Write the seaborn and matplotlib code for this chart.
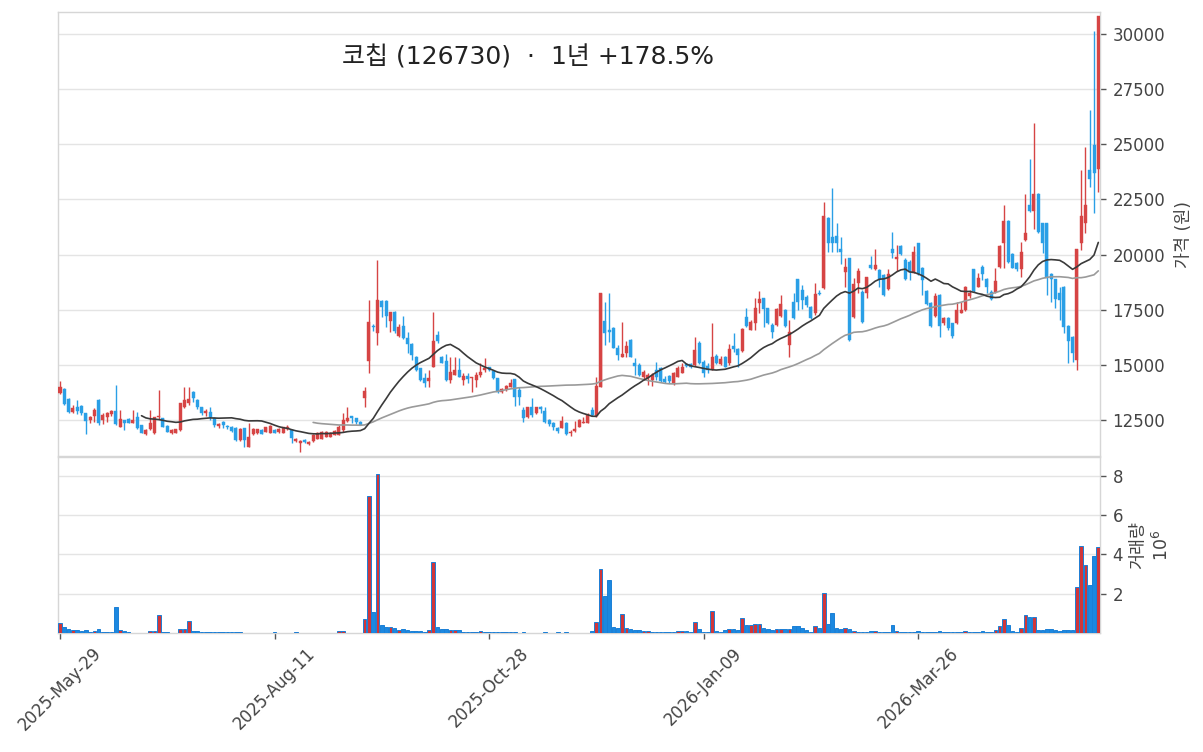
import numpy as np
import pandas as pd
import seaborn as sns
import matplotlib
matplotlib.use('Agg')
import matplotlib.pyplot as plt

# daily OHLC (KRW) and volume (millions of shares), 2025-05-29 .. 2026-05-29
opens = [
    13710, 13904, 13451, 12877, 13100, 13149, 12800, 12500, 12700, 13406,
    12500, 12620, 12771, 12922, 12197, 12500, 12545, 12378, 12650, 12257,
    11850, 12076, 11895, 12620, 12575, 12228, 11895, 11925, 12046, 13100,
    13250, 13780, 13400, 13070, 12800, 12880, 12570, 12230, 12420, 12230,
    12200, 12150, 11600, 12120, 11290, 11850, 11900, 12050, 11970, 11930,
    12050, 11950, 11920, 12100, 12050, 11550, 11450, 11600, 11400, 11530,
    11650, 11650, 11750, 11750, 11820, 11820, 12047, 12470, 12680, 12570,
    12420, 13480, 15175, 16760, 16460, 17900, 17900, 17000, 17400, 16310,
    16760, 16200, 15930, 15340, 14840, 14390, 14280, 14920, 16350, 15370,
    15175, 14310, 14540, 14770, 14310, 14490, 14400, 14310, 14540, 14770,
    14890, 14740, 14390, 13785, 13890, 14010, 14340, 13860, 12950, 12620,
    13100, 12800, 13100, 12900, 12500, 12350, 12150, 12150, 12380, 11900,
    12020, 12200, 12350, 12380, 12950, 12700, 14010, 16990, 16560, 16680,
    15780, 15370, 15550, 16130, 15100, 14990, 14460, 14390, 14310, 14770,
    14840, 14340, 14490, 14190, 14460, 14650, 15020, 15040, 14990, 16000,
    15140, 14950, 14800, 15400, 15040, 15340, 15070, 15870, 15720, 15640,
    17180, 16580, 16880, 17790, 18010, 17560, 16800, 16800, 17210, 17490,
    15900, 17860, 18890, 18395, 18090, 17640, 17340, 18270, 18470, 21640,
    20810, 20840, 20250, 19220, 19830, 17150, 18730, 18320, 18240, 19530,
    19330, 19300, 19070, 18420, 20240, 19790, 20390, 19750, 19680, 19180,
    20510, 19380, 18360, 17820, 17210, 18170, 16910, 17110, 16880, 16880,
    17370, 17490, 18120, 19330, 18540, 19420, 18880, 18320, 18320, 19420,
    20510, 21540, 20030, 19600, 19330, 20660, 22250, 21990, 22750, 21420,
    21420, 19120, 18880, 18240, 18540, 16760, 16280, 15220, 20510, 21420,
    23830, 24970, 23860,
]
highs = [
    14280, 13930, 13480, 13180, 13406, 13180, 12830, 12680, 13030, 13436,
    12800, 12877, 12953, 14086, 12953, 12520, 12570, 12953, 12877, 12280,
    12100, 12953, 12620, 13860, 12600, 12250, 12080, 12100, 13285, 13980,
    14010, 13800, 13450, 13100, 12980, 13100, 12650, 12350, 12450, 12280,
    12230, 12200, 12150, 12150, 12350, 12120, 12100, 12080, 12200, 12250,
    12100, 12150, 12200, 12280, 12100, 11700, 11600, 11620, 11550, 11850,
    11950, 12000, 11980, 11950, 12050, 12250, 12800, 13100, 12700, 12600,
    12450, 14010, 17940, 16850, 19750, 17950, 17950, 17400, 17420, 16850,
    17220, 16500, 15980, 15380, 14870, 14617, 14770, 17410, 16540, 15400,
    15490, 15370, 15340, 15290, 14620, 14620, 14460, 14690, 15070, 15300,
    14920, 14780, 14420, 13940, 14100, 14340, 14360, 14010, 13100, 13100,
    13480, 13100, 13120, 13100, 12550, 12400, 12200, 12680, 12400, 12050,
    12470, 12530, 12650, 12800, 13100, 14470, 18270, 17860, 18240, 16730,
    15900, 16930, 16100, 16160, 15330, 15070, 14770, 14610, 14650, 15140,
    14890, 14510, 14520, 14690, 14960, 15070, 15100, 15080, 16250, 16080,
    15220, 15070, 16880, 15490, 15400, 15400, 15950, 16460, 15750, 16650,
    17590, 17030, 18010, 18360, 18040, 17580, 16880, 17560, 18170, 17520,
    17030, 18260, 18900, 18620, 18170, 17660, 18700, 18390, 22400, 21720,
    23000, 21450, 20780, 19830, 19830, 18920, 19380, 18390, 19000, 19930,
    20250, 19330, 19120, 19330, 21040, 20430, 20420, 19830, 19750, 20390,
    20510, 19450, 18390, 17860, 18240, 18200, 17150, 17150, 16910, 17860,
    17860, 18570, 18390, 19350, 19150, 19530, 18920, 18390, 19380, 20430,
    22250, 21570, 20050, 19650, 20590, 22750, 24330, 25980, 22780, 21450,
    21450, 19150, 18900, 18540, 18560, 16790, 16300, 20240, 23830, 24890,
    26560, 30150, 30820,
]
lows = [
    13700, 13180, 12830, 12800, 12756, 12720, 11865, 12350, 12420, 12273,
    12318, 12424, 12680, 12273, 12197, 12046, 12350, 12350, 12076, 11895,
    11820, 12046, 11865, 12540, 12170, 11940, 11870, 11900, 12016, 13050,
    13200, 13330, 13000, 12720, 12700, 12500, 12200, 12150, 12150, 12100,
    11950, 11550, 11550, 11290, 11260, 11800, 11870, 11850, 11940, 11900,
    11900, 11920, 11900, 12050, 11450, 11500, 11050, 11450, 11350, 11500,
    11620, 11620, 11720, 11720, 11800, 11800, 11970, 12420, 12350, 12320,
    12250, 13075, 14617, 16550, 15900, 17180, 16700, 16500, 16460, 16250,
    16160, 15520, 15220, 14740, 14280, 14010, 14010, 14890, 15980, 15080,
    14280, 14160, 14540, 14460, 14090, 14160, 13780, 14010, 14460, 14690,
    14740, 14340, 13740, 13710, 13830, 13980, 13130, 13180, 12420, 12600,
    12650, 12780, 12800, 12380, 12230, 12050, 11930, 12120, 11820, 11780,
    11970, 12170, 12350, 12350, 12680, 12650, 14010, 15900, 16050, 15750,
    15220, 15340, 15340, 15340, 14540, 14510, 14310, 14090, 14040, 14310,
    14240, 14190, 14160, 14090, 14430, 14610, 14880, 14840, 14950, 15040,
    14430, 14610, 14770, 15040, 14990, 14890, 14990, 15600, 14890, 15600,
    16730, 16580, 16580, 17330, 16730, 16850, 16200, 16780, 17180, 16730,
    15340, 17060, 17500, 17520, 17640, 17060, 17260, 18170, 18420, 20130,
    20130, 20130, 19570, 18550, 16100, 17110, 18240, 16910, 18010, 19330,
    19300, 18550, 18120, 18390, 19830, 19270, 19980, 18850, 18850, 19150,
    19070, 18170, 17710, 16730, 17180, 16280, 16810, 16580, 16200, 16850,
    17330, 17460, 18020, 18320, 18510, 18850, 18240, 17940, 18270, 19380,
    19380, 19630, 19380, 19240, 18990, 20630, 21940, 21150, 20990, 20060,
    18170, 17870, 17560, 17030, 16430, 15100, 15150, 14770, 20210, 20960,
    23080, 21870, 22850,
]
closes = [
    14010, 13209, 12877, 13058, 12907, 12800, 12469, 12635, 12953, 12378,
    12726, 12832, 12907, 12303, 12530, 12348, 12378, 12500, 12121, 11925,
    12046, 12348, 12620, 12650, 12197, 11970, 12046, 12076, 13255, 13400,
    13450, 13480, 13070, 12800, 12920, 12650, 12270, 12320, 12270, 12170,
    12000, 11600, 12100, 11590, 11740, 12070, 12070, 11870, 12160, 12220,
    11930, 12100, 12160, 12200, 11700, 11620, 11550, 11480, 11500, 11830,
    11900, 11950, 11950, 11920, 11980, 12200, 12500, 12570, 12570, 12420,
    12270, 13815, 16960, 16700, 17940, 17610, 17200, 17400, 16550, 16700,
    16200, 15930, 15450, 14760, 14300, 14190, 14390, 16100, 16100, 15100,
    14310, 14660, 14770, 14460, 14490, 14340, 14420, 14540, 14690, 14840,
    14770, 14390, 13785, 13890, 14040, 14160, 13560, 13560, 12570, 13100,
    12730, 13075, 12980, 12420, 12320, 12200, 12000, 12450, 11850, 11970,
    12090, 12500, 12400, 12730, 12730, 14040, 18240, 16430, 16500, 15780,
    15450, 15490, 15850, 15370, 14950, 14540, 14660, 14540, 14540, 14460,
    14280, 14240, 14280, 14620, 14870, 14890, 14950, 14890, 15670, 15070,
    14620, 14770, 15340, 15100, 15280, 14920, 15700, 15700, 15450, 16610,
    16760, 16930, 17560, 17970, 17510, 16880, 16500, 17520, 17760, 16780,
    16500, 17110, 17860, 17940, 17710, 17110, 18210, 18210, 21750, 20510,
    20510, 20510, 20130, 19420, 16130, 18670, 19270, 16960, 18970, 19380,
    19530, 18880, 18170, 19120, 20090, 19900, 20030, 18880, 19220, 20130,
    19120, 18850, 17760, 16760, 18120, 16760, 17110, 16660, 16310, 17490,
    17490, 18550, 18240, 18360, 18920, 19120, 18510, 17970, 18820, 20390,
    21540, 19680, 19380, 19330, 20130, 20960, 21990, 22750, 21040, 20540,
    18920, 18880, 17970, 17940, 16730, 16100, 15550, 20240, 21750, 22250,
    23410, 23710, 30820,
]
volumes = [
    0.52, 0.30, 0.22, 0.13, 0.13, 0.08, 0.13, 0.03, 0.08, 0.22,
    0.03, 0.03, 0.03, 1.30, 0.17, 0.08, 0.03, 0.02, 0.02, 0.02,
    0.02, 0.12, 0.08, 0.92, 0.03, 0.03, 0.02, 0.02, 0.22, 0.22,
    0.60, 0.12, 0.08, 0.05, 0.03, 0.03, 0.03, 0.03, 0.03, 0.03,
    0.03, 0.05, 0.03, 0.02, 0.02, 0.02, 0.02, 0.02, 0.02, 0.02,
    0.05, 0.01, 0.01, 0.01, 0.01, 0.04, 0.01, 0.01, 0.01, 0.01,
    0.01, 0.01, 0.01, 0.01, 0.01, 0.10, 0.10, 0.01, 0.01, 0.01,
    0.01, 0.70, 6.95, 1.05, 8.10, 0.42, 0.33, 0.33, 0.28, 0.17,
    0.20, 0.13, 0.10, 0.10, 0.08, 0.05, 0.13, 3.60, 0.33, 0.22,
    0.20, 0.13, 0.13, 0.13, 0.05, 0.03, 0.03, 0.03, 0.08, 0.03,
    0.03, 0.03, 0.03, 0.03, 0.03, 0.03, 0.03, 0.02, 0.04, 0.01,
    0.01, 0.01, 0.01, 0.03, 0.01, 0.01, 0.03, 0.01, 0.03, 0.01,
    0.01, 0.01, 0.01, 0.01, 0.08, 0.57, 3.26, 1.90, 2.70, 0.32,
    0.27, 0.97, 0.27, 0.18, 0.13, 0.13, 0.12, 0.12, 0.03, 0.03,
    0.03, 0.03, 0.03, 0.03, 0.08, 0.08, 0.08, 0.05, 0.57, 0.18,
    0.03, 0.03, 1.14, 0.10, 0.05, 0.13, 0.22, 0.22, 0.13, 0.77,
    0.39, 0.39, 0.44, 0.44, 0.27, 0.18, 0.13, 0.18, 0.18, 0.18,
    0.18, 0.35, 0.35, 0.27, 0.13, 0.05, 0.35, 0.27, 2.03, 0.44,
    1.03, 0.27, 0.22, 0.27, 0.22, 0.10, 0.03, 0.03, 0.03, 0.12,
    0.12, 0.03, 0.03, 0.03, 0.39, 0.12, 0.03, 0.03, 0.03, 0.03,
    0.12, 0.03, 0.03, 0.03, 0.03, 0.12, 0.03, 0.03, 0.03, 0.03,
    0.03, 0.10, 0.03, 0.03, 0.03, 0.08, 0.03, 0.03, 0.15, 0.35,
    0.69, 0.39, 0.12, 0.05, 0.27, 0.90, 0.84, 0.84, 0.17, 0.13,
    0.18, 0.22, 0.13, 0.08, 0.13, 0.13, 0.13, 2.34, 4.42, 3.45,
    2.45, 3.90, 4.35,
]
tick_pos = [0, 50, 100, 150, 200]
tick_labels = ['2025-May-29', '2025-Aug-11', '2025-Oct-28', '2026-Jan-09', '2026-Mar-26']
title = '코칩 (126730)  ·  1년 +178.5%'

UP = '#D64444'
DOWN = '#2A9FE6'
VOL_UP = '#D0363A'
VOL_DOWN = '#1C88E0'
VOL_EDGE = '#1B7FD6'


def main():
    df = pd.DataFrame({'open': opens, 'high': highs, 'low': lows,
                       'close': closes, 'volume': volumes})
    df['idx'] = np.arange(len(df))
    df['ma20'] = df['close'].rolling(20).mean()
    df['ma60'] = df['close'].rolling(60).mean()
    up = (df['close'] >= df['open']).values
    colors = np.where(up, UP, DOWN)

    sns.set_theme(style='white')
    plt.rcParams['font.family'] = ['DejaVu Sans', 'Noto Sans CJK KR']
    plt.rcParams['axes.unicode_minus'] = False

    fig = plt.figure(figsize=(12.03, 7.52), dpi=100)
    ax = fig.add_axes([0.0482, 0.3936, 0.8662, 0.5904])
    axv = fig.add_axes([0.0482, 0.1582, 0.8662, 0.2341], sharex=ax)

    # candles: wicks + bodies
    ax.vlines(df['idx'], df['low'], df['high'], colors=colors, linewidth=1.0, zorder=3)
    body_lo = np.minimum(df['open'], df['close'])
    body_h = np.maximum(np.abs(df['close'] - df['open']), 45)
    ax.bar(df['idx'], body_h, bottom=body_lo, width=0.7, color=colors,
           edgecolor=colors, linewidth=0.3, zorder=4)

    # moving averages
    sns.lineplot(data=df, x='idx', y='ma60', ax=ax, color='#9a9a9a', linewidth=1.2, zorder=5)
    sns.lineplot(data=df, x='idx', y='ma20', ax=ax, color='#3a3a3a', linewidth=1.2, zorder=6)

    rng = df['high'].max() - df['low'].min()
    ax.set_ylim(df['low'].min() - 0.0093 * rng, df['high'].max() + 0.009 * rng)
    ax.set_xlim(-0.47, len(df) - 0.6)
    ax.set_yticks([12500, 15000, 17500, 20000, 22500, 25000, 27500, 30000])

    # volume
    vcolors = np.where(up, VOL_UP, VOL_DOWN)
    axv.bar(df['idx'], df['volume'], width=0.85, color=vcolors,
            edgecolor=VOL_EDGE, linewidth=0.7, zorder=3)
    axv.set_ylim(0, df['volume'].max() * 1.105)
    axv.set_yticks([2, 4, 6, 8])
    axv.set_xticks(tick_pos)
    axv.set_xticklabels(tick_labels, rotation=45, ha='center', fontsize=12, color='#444444')

    for a in (ax, axv):
        a.yaxis.tick_right()
        a.yaxis.set_label_position('right')
        a.grid(axis='y', color='#E4E4E4', linewidth=1.0, zorder=0)
        a.grid(axis='x', visible=False)
        for s in a.spines.values():
            s.set_color('#D6D6D6')
            s.set_linewidth(1.0)
        a.tick_params(axis='y', which='major', right=True, left=False, length=4,
                      width=1, color='#555555', labelsize=12, labelcolor='#444444', pad=5)
        a.set_xlabel('')

    ax.tick_params(axis='x', bottom=False, labelbottom=False)
    axv.tick_params(axis='x', bottom=True, length=4, width=1, color='#555555', pad=4)

    ax.set_ylabel('가격 (원)', fontsize=12.5, color='#444444', labelpad=7)
    axv.set_ylabel('거래량\n$10^{6}$', fontsize=12.5, color='#444444', labelpad=4,
                   linespacing=1.35)

    fig.text(0.439, 1 - 57 / 752, title, ha='center', va='center',
             fontsize=18, color='#222222')

    fig.savefig('out.png', dpi=100)


if __name__ == '__main__':
    main()
